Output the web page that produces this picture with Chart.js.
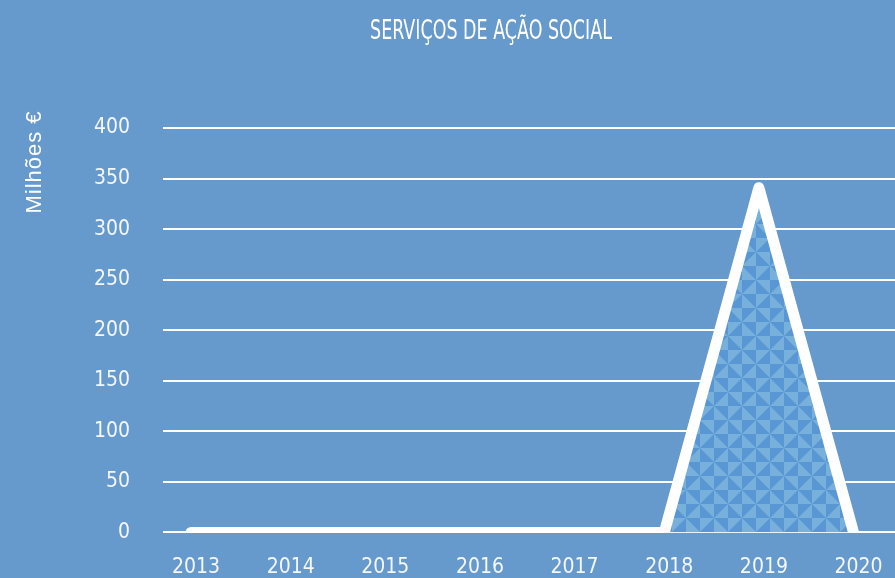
<!DOCTYPE html>
<html>
<head>
<meta charset="utf-8">
<script src="https://cdn.jsdelivr.net/npm/chart.js@4.4.1/dist/chart.umd.min.js"></script>
<style>
  html, body { margin: 0; padding: 0; background: #6699cc; }
  #wrap { width: 895px; height: 578px; }
</style>
</head>
<body>
<div id="wrap"><canvas id="chart"></canvas></div>
<script>
/* DATA */
const years = [2013, 2014, 2015, 2016, 2017, 2018, 2019, 2020];
const values = [0, 0, 0, 0, 0, 0, 341, 0];
const yTicks = [0, 50, 100, 150, 200, 250, 300, 350, 400];
const chartTitle = "SERVIÇOS DE AÇÃO SOCIAL";
const yAxisTitle = "Milhões €";

const narrow = "'Liberation Sans Narrow', 'DejaVu Sans Condensed', 'Arial Narrow', sans-serif";

/* PATTERN - pinwheel tiles */
function makePattern() {
  const c = document.createElement("canvas");
  const s = 14;
  c.width = s * 2;
  c.height = s * 2;
  const g = c.getContext("2d");
  g.fillStyle = "#5897d4";
  g.fillRect(0, 0, s * 2, s * 2);
  g.fillStyle = "#78b0dc";
  const tri = pts => {
    g.beginPath();
    g.moveTo(pts[0][0], pts[0][1]);
    g.lineTo(pts[1][0], pts[1][1]);
    g.lineTo(pts[2][0], pts[2][1]);
    g.closePath();
    g.fill();
  };
  tri([[s, s], [s, 0], [0, 0]]);
  tri([[s, s], [2 * s, s], [2 * s, 0]]);
  tri([[s, s], [s, 2 * s], [2 * s, 2 * s]]);
  tri([[s, s], [0, s], [0, 2 * s]]);
  return g.createPattern(c, "repeat");
}

/* TEXT PLUGIN */
const textPlugin = {
  id: "texts",
  afterDraw(chart) {
    const ctx = chart.ctx;
    ctx.save();
    ctx.fillStyle = "#ffffff";
    ctx.textAlign = "center";
    ctx.textBaseline = "middle";
    ctx.font = "27px " + narrow;
    ctx.translate(491, 32);
    ctx.scale(0.72, 1);
    ctx.fillText(chartTitle, 0, 0);
    ctx.restore();

    ctx.save();
    ctx.fillStyle = "#ffffff";
    ctx.textAlign = "center";
    ctx.textBaseline = "middle";
    ctx.translate(35, 162);
    ctx.rotate(-Math.PI / 2);
    ctx.font = "22px 'Liberation Sans', Arial, sans-serif";
    ctx.letterSpacing = "1px";
    ctx.fillText(yAxisTitle, 0, 0);
    ctx.restore();
  }
};

/* CHART */
new Chart(document.getElementById("chart"), {
  type: "line",
  data: {
    datasets: [{
      data: years.map((y, i) => ({ x: y, y: values[i] })),
      borderColor: "#ffffff",
      borderWidth: 11,
      borderJoinStyle: "round",
      borderCapStyle: "round",
      backgroundColor: makePattern(),
      fill: "origin",
      pointRadius: 0,
      tension: 0
    }]
  },
  options: {
    responsive: true,
    maintainAspectRatio: false,
    animation: false,
    layout: { padding: { top: 128, right: 0, bottom: 0, left: 0 } },
    plugins: {
      legend: { display: false },
      tooltip: { enabled: false }
    },
    scales: {
      x: {
        type: "linear",
        min: 2012.704,
        max: 2020.438,
        afterBuildTicks: axis => { axis.ticks = years.map(v => ({ value: v })); },
        afterFit: axis => { axis.height = 43; },
        grid: { display: false },
        border: { display: false },
        ticks: {
          color: "#f4f7fb",
          font: { family: narrow, size: 21 },
          padding: 15,
          labelOffset: 5,
          maxRotation: 0,
          callback: v => String(v)
        }
      },
      y: {
        min: 0,
        max: 400,
        afterBuildTicks: axis => { axis.ticks = yTicks.map(v => ({ value: v })); },
        afterFit: axis => { axis.width = 163; },
        grid: { color: "#ffffff", lineWidth: 2, drawTicks: false },
        border: { display: false },
        ticks: {
          color: "#f4f7fb",
          font: { family: narrow, size: 21 },
          padding: 33
        }
      }
    }
  },
  plugins: [textPlugin]
});
</script>
</body>
</html>
